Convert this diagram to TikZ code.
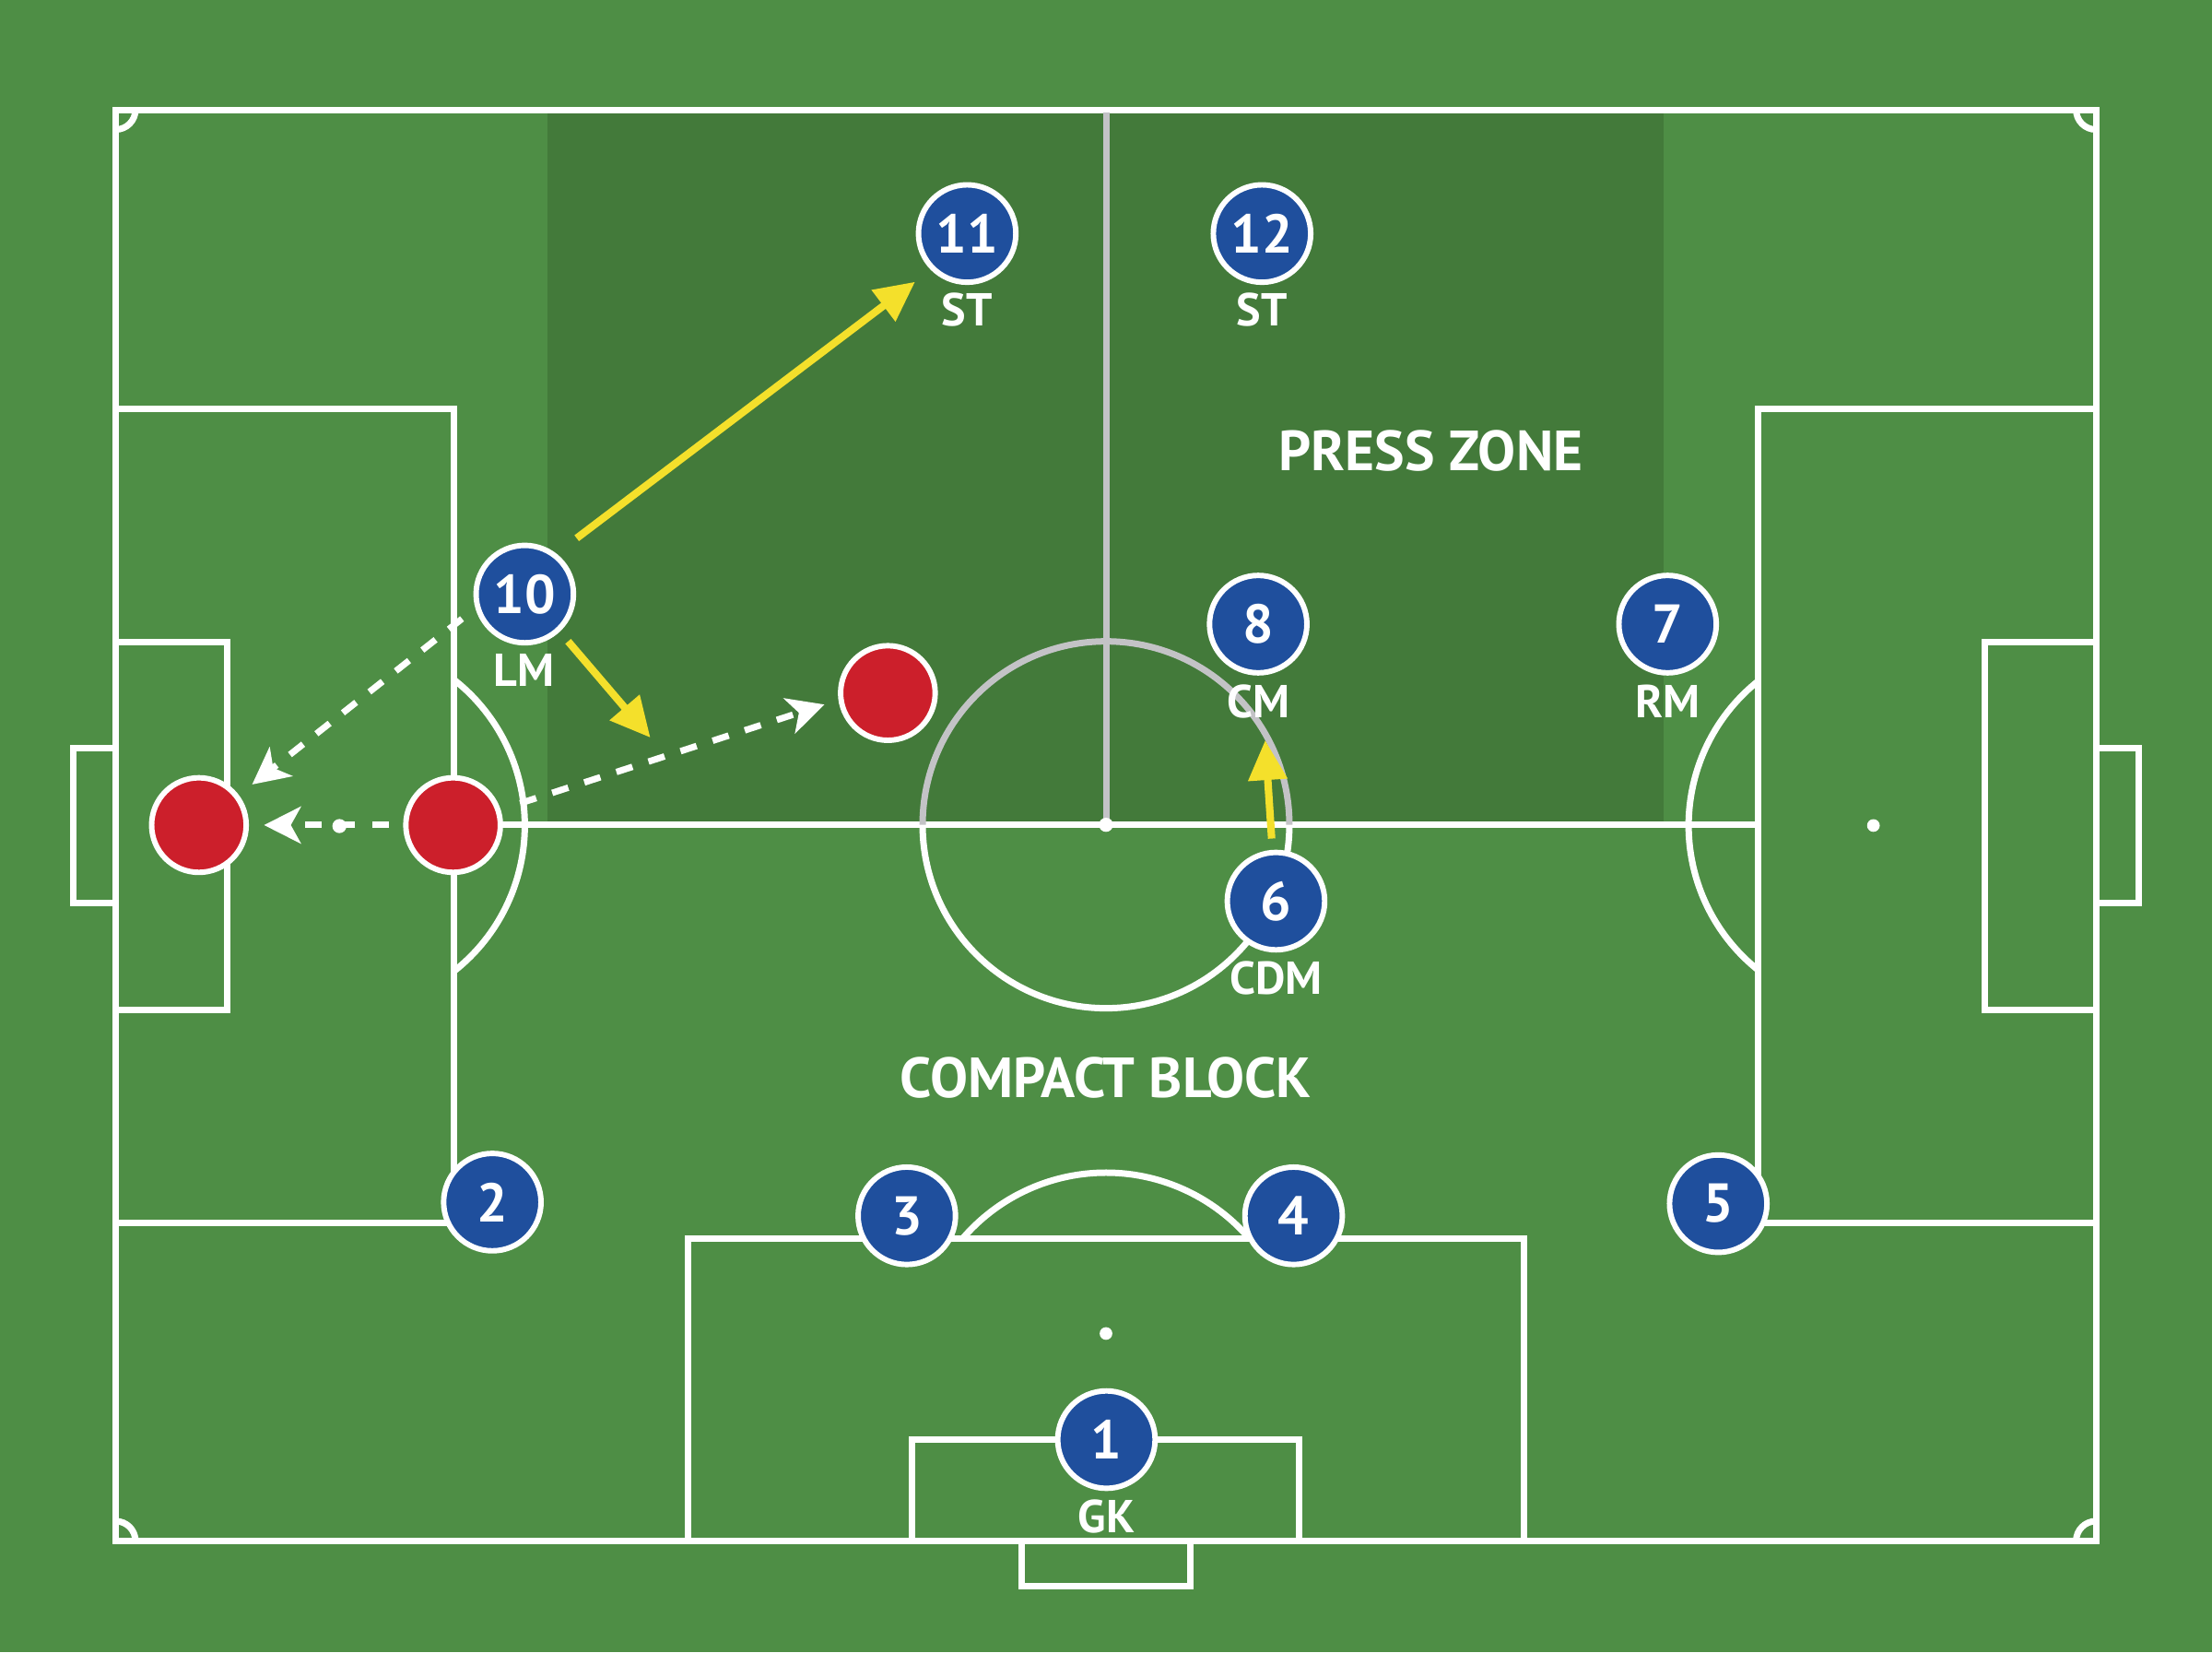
\documentclass[tikz,border=0pt]{standalone}
\usepackage{fontspec}
\setmainfont{PT Sans}
\usetikzlibrary{arrows.meta}
\definecolor{grass}{HTML}{4E8E45}
\definecolor{zonegreen}{HTML}{437A3A}
\definecolor{pblue}{HTML}{1F4F9D}
\definecolor{pred}{HTML}{CC1F2B}
\definecolor{arrowy}{HTML}{F4E02B}
\definecolor{lgray}{HTML}{C3C3C6}
\begin{document}
\begin{tikzpicture}[x=0.01cm,y=-0.01cm,
 pline/.style={white, line width=1.3pt},
 zline/.style={lgray, line width=1.3pt},
 player/.style={circle, fill=pblue, draw=white, line width=1.1pt, minimum size=0.69cm, inner sep=0pt, text=white, font=\fontsize{11}{11}\selectfont\bfseries},
 opp/.style={circle, fill=pred, draw=white, line width=1.1pt, minimum size=0.67cm, inner sep=0pt},
 role/.style={text=white, font=\fontsize{9.3}{9.3}\selectfont\bfseries, inner sep=0pt},
 zonelabel/.style={text=white, font=\fontsize{11.4}{11.4}\selectfont\bfseries, inner sep=0pt},
 yarrow/.style={arrowy, line width=1.5pt, -{Triangle[length=8pt,width=7.6pt]}},
 warrow/.style={white, line width=1.3pt, dash pattern=on 3.4pt off 3.4pt, -{Stealth[length=7.4pt,width=7.4pt,inset=2pt]}}
]
\useasboundingbox (0,0) rectangle (1568,1170.8);
\fill[grass] (0,0) rectangle (1568,1170.8);
% press zone shading
\fill[zonegreen] (388,80.5) rectangle (1179,583);
% pitch lines
\draw[pline] (82,77.8) rectangle (1485.7,1092);
\draw[pline] (82,289.7) -- (321.6,289.7) -- (321.6,866.6) -- (82,866.6);
\draw[pline] (82,455) -- (161,455) -- (161,716) -- (82,716);
\draw[pline] (82,530) -- (52,530) -- (52,640) -- (82,640);
\draw[pline] (1485.7,289.7) -- (1246,289.7) -- (1246,866.6) -- (1485.7,866.6);
\draw[pline] (1485.7,455) -- (1407,455) -- (1407,716) -- (1485.7,716);
\draw[pline] (1485.7,530) -- (1516,530) -- (1516,640) -- (1485.7,640);
\draw[pline] (488,1092) -- (488,878) -- (1080,878) -- (1080,1092);
\draw[pline] (646.6,1092) -- (646.6,1020.2) -- (920.8,1020.2) -- (920.8,1092);
\draw[pline] (724,1092) -- (724,1123.8) -- (844,1123.8) -- (844,1092);
\draw[pline] (321.6,584.5) -- (1246,584.5);
\draw[pline] (914,584.5) arc[start angle=0, end angle=180, radius=130];
\draw[zline] (914,584.5) arc[start angle=0, end angle=-180, radius=130];
\draw[zline] (784,80) -- (784,584.5);
\draw[pline] (321.6,481.5) arc[start angle=-51.95, end angle=51.95, radius=131.4];
\draw[pline] (1246,687.2) arc[start angle=128.75, end angle=231.25, radius=131];
\draw[pline] (682.1,878) arc[start angle=-139.5, end angle=-40.5, radius=134];
\draw[pline] (96,77.8) arc[start angle=0, end angle=90, radius=14];
\draw[pline] (1485.7,91.8) arc[start angle=90, end angle=180, radius=14];
\draw[pline] (82,1078) arc[start angle=-90, end angle=0, radius=14];
\draw[pline] (1471.7,1092) arc[start angle=180, end angle=270, radius=14];
\fill[white] (784,584.5) circle[radius=5];
\fill[white] (1328,585) circle[radius=4.5];
\fill[white] (784,945) circle[radius=4.5];
\fill[white] (240.6,585.4) circle[radius=5];
% zone labels
\node[zonelabel] (pz) at (1014.3,319.5) {PRESS ZONE};
\node[zonelabel] (cb) at (783.8,763.8) {COMPACT BLOCK};
% opponents
\node[opp] (r1) at (141,584.7) {};
\node[opp] (r2) at (321.2,584.7) {};
\node[opp] (r3) at (629.4,491.1) {};
% players
\node[player] (p11) at (685.6,165.5) {11};
\node[role] (l11) at (685.6,219.3) {ST};
\node[player] (p12) at (894.6,165.5) {12};
\node[role] (l12) at (894.6,219.3) {ST};
\node[player] (p10) at (372,421) {10};
\node[role] (l10) at (371.6,474.8) {LM};
\node[player] (p8) at (891.9,442.3) {8};
\node[role] (l8) at (891.9,496.9) {CM};
\node[player] (p7) at (1182.1,442.3) {7};
\node[role] (l7) at (1182.1,496.9) {RM};
\node[player] (p6) at (904.5,638.6) {6};
\node[role] (l6) at (904.5,692.9) {CDM};
\node[player] (p2) at (349,851.9) {2};
\node[player] (p3) at (642.8,861.6) {3};
\node[player] (p4) at (917,861.6) {4};
\node[player] (p5) at (1218,853) {5};
\node[player] (p1) at (784.3,1020.2) {1};
\node[role] (l1) at (784.3,1075) {GK};
% movement arrows
\coordinate (m1) at (461,522.7);
\draw[yarrow, shorten <=0.18cm, shorten >=0.14cm] (p10.52) -- (p11.225);
\draw[yarrow, shorten <=0.09cm] (p10.-47) -- (m1);
\draw[yarrow, shorten <=0.08cm, shorten >=0.46cm] (p6.94) -- (p8.-87);
\draw[warrow, shorten <=0.12cm, shorten >=0.12cm] (p10.196) -- (r1.37);
\draw[warrow, shorten <=0.10cm, shorten >=0.107cm] (r2.180) -- (r1.0);
\draw[warrow, shorten <=0.145cm, shorten >=0.104cm] (r2.18) -- (r3.188);
\end{tikzpicture}
\end{document}
